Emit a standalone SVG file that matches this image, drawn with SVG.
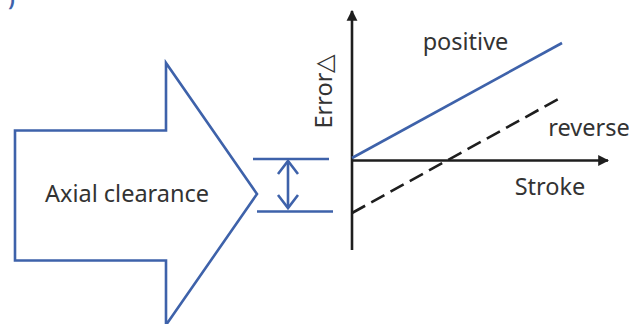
<svg xmlns="http://www.w3.org/2000/svg" width="629" height="324" viewBox="0 0 629 324">
<style>
.blue{stroke:#3e62aa;fill:none;stroke-width:2.6}
.ax{stroke:#1e1e1e;fill:none;stroke-width:2.6}
.t{font-family:"Source Sans Pro","Noto Sans","Liberation Sans",sans-serif;fill:#333;font-size:23.5px}
</style>
<defs>
<marker id="ah" viewBox="0 0 10 10" refX="9" refY="5" markerWidth="4.2" markerHeight="6" orient="auto" markerUnits="strokeWidth">
<path d="M0,0 L10,5 L0,10 z" fill="#1e1e1e"/>
</marker>
</defs>
<text x="8" y="6" style="font-family:'Noto Sans',sans-serif;font-size:20px;font-weight:bold;fill:#3e62aa">)</text>
<g id="bigarrow">
<path class="blue" d="M15,130.5 H166 V63 L257,194 L166,325 V260.5 H15 Z"/>
<text class="t" x="127" y="202" text-anchor="middle">Axial clearance</text>
</g>
<g id="clearance">
<line class="blue" x1="253" y1="159" x2="329" y2="159"/>
<line class="blue" x1="257" y1="211.5" x2="333" y2="211.5"/>
<line class="blue" x1="288" y1="161" x2="288" y2="208"/>
<polyline class="blue" points="278,174 288,161 298,174"/>
<polyline class="blue" points="278,195 288,208 298,195"/>
</g>
<g id="connectors">
<line class="ax" x1="352" y1="250" x2="352" y2="11" marker-end="url(#ah)"/>
<line class="ax" x1="352" y1="160.5" x2="608" y2="160.5" marker-end="url(#ah)"/>
<line class="blue" x1="352" y1="158" x2="562" y2="43"/>
<line class="ax" x1="352" y1="213" x2="562" y2="97" stroke-dasharray="15,7"/>
</g>
<g id="labels">
<text class="t" x="465.5" y="49.5" text-anchor="middle">positive</text>
<text class="t" x="589" y="135.5" text-anchor="middle">reverse</text>
<text class="t" x="550" y="195" text-anchor="middle">Stroke</text>
<text class="t" transform="translate(331.5,91.5) rotate(-90)" text-anchor="middle">Error△</text>
</g>
</svg>
